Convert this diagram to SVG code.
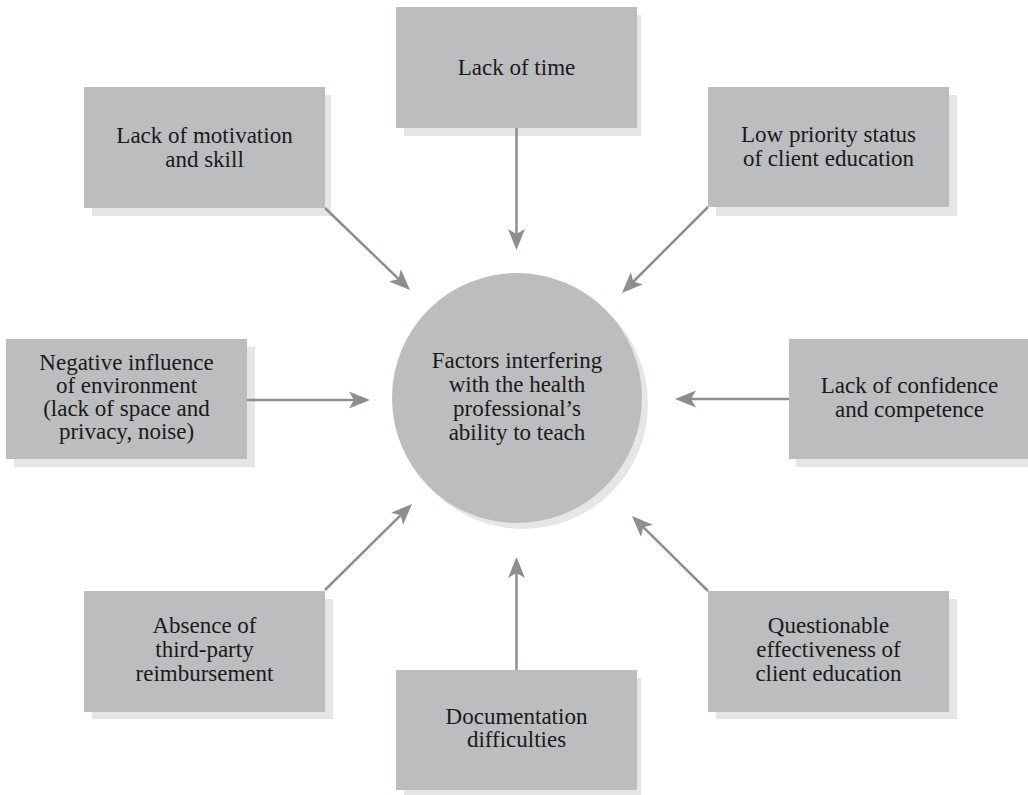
<svg xmlns="http://www.w3.org/2000/svg" width="1028" height="795" viewBox="0 0 1028 795">
<defs>
<style>
.box{fill:#bcbdbf}
.sh{fill:#e5e6e7}
.t{font-family:"Liberation Serif","Times New Roman",serif;font-size:23px;fill:#1a1a1a;text-anchor:middle}
.c{stroke:#8d8e91;stroke-width:2.5;fill:none;marker-end:url(#ah)}
</style>
<marker id="ah" markerUnits="userSpaceOnUse" orient="auto" markerWidth="40" markerHeight="40" refX="0" refY="0" overflow="visible">
<path d="M12,0 L-9,-8.5 L-4,0 L-9,8.5 Z" fill="#8d8e91"/>
</marker>
</defs>
<rect width="1028" height="795" fill="#ffffff"/>
<g id="center">
<circle cx="523" cy="404" r="125" class="sh"/>
<circle cx="517" cy="398" r="125" class="box"/>
<text class="t" x="517" y="368">Factors interfering</text>
<text class="t" x="517" y="392">with the health</text>
<text class="t" x="517" y="416">professional’s</text>
<text class="t" x="517" y="440">ability to teach</text>
</g>
<g id="n-time">
<rect x="404" y="15" width="237" height="121" class="sh"/>
<rect x="396" y="7" width="241" height="121" class="box"/>
<text class="t" x="516.5" y="75">Lack of time</text>
</g>
<g id="n-motivation">
<rect x="92" y="95" width="239" height="121" class="sh"/>
<rect x="84" y="87" width="241" height="121" class="box"/>
<text class="t" x="204.5" y="143">Lack of motivation</text>
<text class="t" x="204.5" y="167">and skill</text>
</g>
<g id="n-priority">
<rect x="716" y="95" width="241" height="121" class="sh"/>
<rect x="708" y="87" width="241" height="120" class="box"/>
<text class="t" x="828.5" y="142">Low priority status</text>
<text class="t" x="828.5" y="166">of client education</text>
</g>
<g id="n-environment">
<rect x="14" y="347" width="241" height="120" class="sh"/>
<rect x="6" y="339" width="241" height="120" class="box"/>
<text class="t" x="126.5" y="370">Negative influence</text>
<text class="t" x="126.5" y="393">of environment</text>
<text class="t" x="126.5" y="416">(lack of space and</text>
<text class="t" x="126.5" y="439">privacy, noise)</text>
</g>
<g id="n-confidence">
<rect x="796" y="347" width="241" height="120" class="sh"/>
<rect x="789" y="339" width="241" height="120" class="box"/>
<text class="t" x="909.5" y="393">Lack of confidence</text>
<text class="t" x="909.5" y="417">and competence</text>
</g>
<g id="n-reimbursement">
<rect x="92" y="599" width="241" height="120" class="sh"/>
<rect x="84" y="591" width="241" height="121" class="box"/>
<text class="t" x="204.5" y="633">Absence of</text>
<text class="t" x="204.5" y="657">third-party</text>
<text class="t" x="204.5" y="681">reimbursement</text>
</g>
<g id="n-effectiveness">
<rect x="716" y="599" width="241" height="120" class="sh"/>
<rect x="708" y="591" width="241" height="121" class="box"/>
<text class="t" x="828.5" y="633">Questionable</text>
<text class="t" x="828.5" y="657">effectiveness of</text>
<text class="t" x="828.5" y="681">client education</text>
</g>
<g id="n-documentation">
<rect x="404" y="678" width="237" height="117" class="sh"/>
<rect x="396" y="670" width="241" height="120" class="box"/>
<text class="t" x="516.5" y="724">Documentation</text>
<text class="t" x="516.5" y="747">difficulties</text>
</g>
<g id="connectors">
<line class="c" x1="516.5" y1="128" x2="516.5" y2="238"/>
<line class="c" x1="516.5" y1="670" x2="516.5" y2="569"/>
<line class="c" x1="247" y1="400" x2="358" y2="400"/>
<line class="c" x1="789" y1="399" x2="687" y2="399"/>
<line class="c" x1="325" y1="208" x2="401.4" y2="281.7"/>
<line class="c" x1="708" y1="207" x2="630.5" y2="284.5"/>
<line class="c" x1="325" y1="590" x2="403.5" y2="512.4"/>
<line class="c" x1="708" y1="591" x2="640.5" y2="524.4"/>
</g>
</svg>
